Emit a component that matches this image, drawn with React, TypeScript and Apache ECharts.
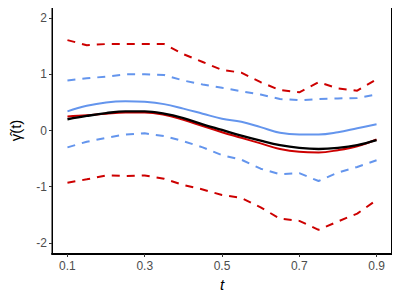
import React, { useEffect, useRef } from "react";
import * as echarts from "echarts";

const tGrid = [0.1, 0.15, 0.2, 0.25, 0.3, 0.35, 0.4, 0.45, 0.5, 0.55, 0.6, 0.65, 0.7, 0.75, 0.8, 0.85, 0.9];
const trueCurve = [0.2, 0.26, 0.31, 0.34, 0.34, 0.3, 0.22, 0.11, 0.01, -0.09, -0.18, -0.26, -0.31, -0.33, -0.31, -0.26, -0.17];
const redEst = [0.25, 0.27, 0.3, 0.32, 0.32, 0.28, 0.19, 0.08, -0.03, -0.13, -0.23, -0.33, -0.38, -0.39, -0.35, -0.28, -0.16];
const redUpper = [1.61, 1.52, 1.54, 1.54, 1.54, 1.54, 1.36, 1.22, 1.08, 1.03, 0.86, 0.72, 0.68, 0.86, 0.75, 0.71, 0.91];
const redLower = [-0.93, -0.87, -0.8, -0.81, -0.8, -0.86, -0.97, -1.05, -1.15, -1.2, -1.37, -1.57, -1.61, -1.77, -1.62, -1.48, -1.24];
const blueEst = [0.34, 0.44, 0.5, 0.52, 0.51, 0.47, 0.39, 0.3, 0.21, 0.155, 0.06, -0.04, -0.07, -0.07, -0.03, 0.04, 0.11];
const blueUpper = [0.89, 0.93, 0.96, 1.0, 1.0, 0.99, 0.89, 0.82, 0.76, 0.7, 0.64, 0.56, 0.54, 0.56, 0.57, 0.58, 0.64];
const blueLower = [-0.3, -0.2, -0.13, -0.07, -0.05, -0.1, -0.19, -0.3, -0.44, -0.52, -0.68, -0.78, -0.76, -0.9, -0.75, -0.65, -0.53];
const xTicks = [0.1, 0.3, 0.5, 0.7, 0.9];
const yTicks = [-2, -1, 0, 1, 2];

const RED = "#CD0000";
const BLUE = "#6495ED";

function pairs(ys: number[]) {
  return tGrid.map((t, i) => [t, ys[i]]);
}

export default function App() {
  const ref = useRef<HTMLDivElement>(null);
  useEffect(() => {
    if (!ref.current) return;
    const chart = echarts.init(ref.current, null, { renderer: "svg" });
    const font = "'Liberation Sans', Arial, sans-serif";
    const dashed = (name: string, ys: number[], color: string) => ({
      name,
      type: "line",
      data: pairs(ys),
      showSymbol: false,
      lineStyle: { color, width: 2, type: [8, 7] },
      z: 2,
    });
    const solid = (name: string, ys: number[], color: string, w: number, z: number) => ({
      name,
      type: "line",
      data: pairs(ys),
      showSymbol: false,
      smooth: 0.4,
      lineStyle: { color, width: w },
      z,
    });
    chart.setOption({
      animation: false,
      backgroundColor: "#ffffff",
      grid: { left: 49, right: 8, top: 7, bottom: 46, show: true, borderColor: "#000", borderWidth: 1 },
      xAxis: {
        type: "value",
        min: 0.06,
        max: 0.94,
        name: "t",
        nameLocation: "middle",
        nameGap: 22,
        nameTextStyle: { fontFamily: font, fontSize: 15, fontStyle: "italic", color: "#000" },
        axisLine: { show: true, onZero: false, lineStyle: { color: "#000", width: 2 } },
        axisTick: { show: true, length: 3, lineStyle: { color: "#333" }, customValues: xTicks },
        splitLine: { show: false },
        axisLabel: {
          color: "#4D4D4D",
          fontFamily: font,
          fontSize: 12,
          margin: 6,
          customValues: xTicks,
          formatter: (v: number) => v.toFixed(1),
        },
      },
      yAxis: [
        {
          type: "value",
          min: -2.2,
          max: 2.2,
          name: "\u03B3\u0302(t)",
          nameLocation: "middle",
          nameGap: 29,
          nameRotate: 90,
          nameTextStyle: { fontFamily: font, fontSize: 15, color: "#000" },
          axisLine: { show: true, onZero: false, lineStyle: { color: "#000", width: 1 } },
          axisTick: { show: true, length: 3, lineStyle: { color: "#333" }, customValues: yTicks },
          splitLine: { show: false },
          axisLabel: {
            color: "#4D4D4D",
            fontFamily: font,
            fontSize: 12,
            margin: 5,
            customValues: yTicks,
            formatter: (v: number) => String(v),
          },
        },
        {
          type: "value",
          position: "right",
          min: -2.2,
          max: 2.2,
          axisLine: { show: true, onZero: false, lineStyle: { color: "#000", width: 2 } },
          axisTick: { show: false },
          axisLabel: { show: false },
          splitLine: { show: false },
        },
      ],
      series: [
        dashed("redUpper", redUpper, RED),
        dashed("redLower", redLower, RED),
        dashed("blueUpper", blueUpper, BLUE),
        dashed("blueLower", blueLower, BLUE),
        solid("blueEst", blueEst, BLUE, 2, 3),
        solid("redEst", redEst, RED, 2, 3),
        solid("true", trueCurve, "#000", 2.4, 4),
      ],
    });
    return () => chart.dispose();
  }, []);
  return <div ref={ref} style={{ width: 400, height: 300, margin: -8 }} />;
}
